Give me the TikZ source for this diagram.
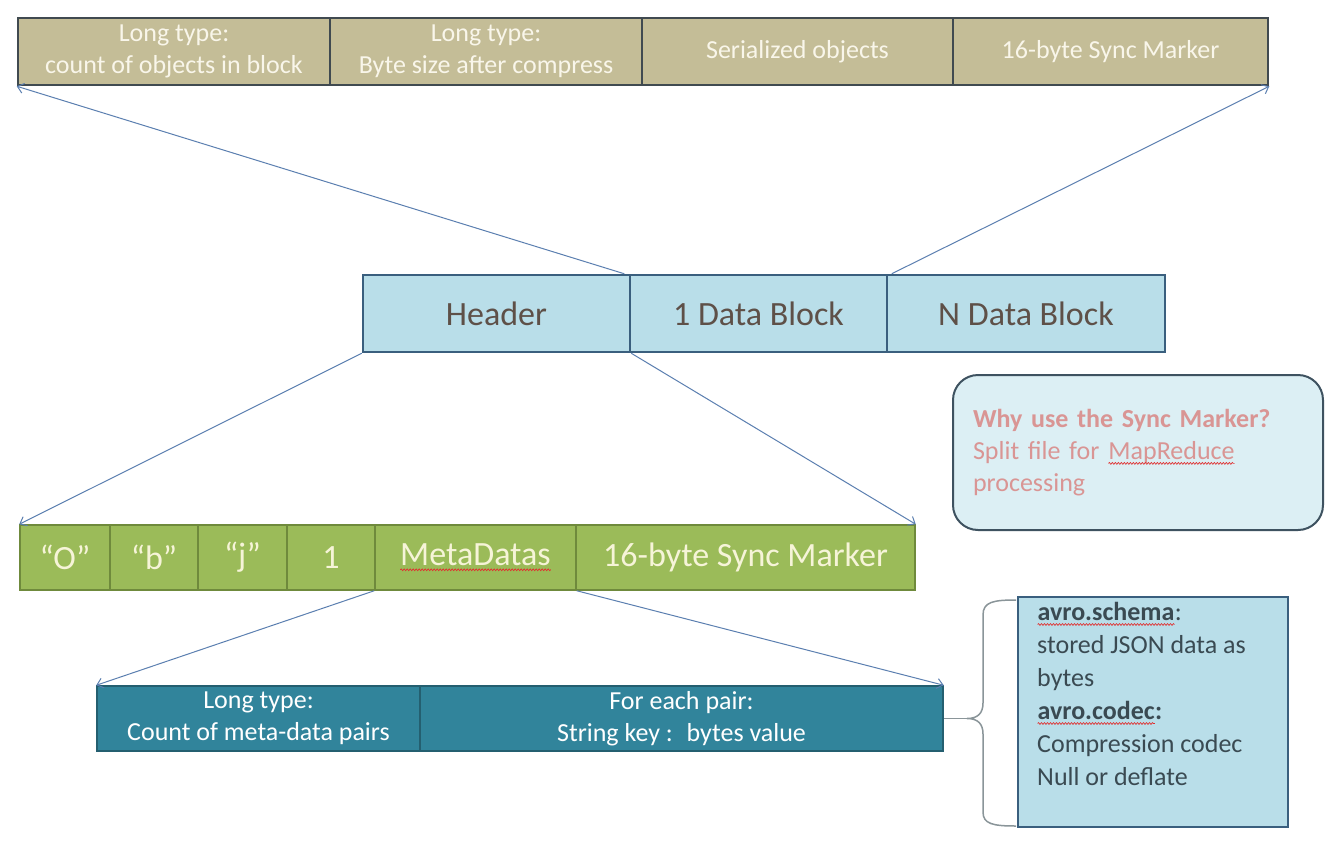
\documentclass[tikz,border=0pt]{standalone}
\usepackage{fontspec}
\setmainfont{Carlito}
\usetikzlibrary{arrows.meta,decorations.pathmorphing}
\definecolor{tanfill}{HTML}{C4BD97}
\definecolor{tanline}{HTML}{404A50}
\definecolor{tantext}{HTML}{F9F6EA}
\definecolor{midfill}{HTML}{B9DEE9}
\definecolor{midline}{HTML}{3A5F7E}
\definecolor{midtext}{HTML}{5E5048}
\definecolor{grnfill}{HTML}{9BBB59}
\definecolor{grnline}{HTML}{6F8A3C}
\definecolor{grntext}{HTML}{F6F4D8}
\definecolor{tealfill}{HTML}{31849B}
\definecolor{tealline}{HTML}{245F70}
\definecolor{noteline}{HTML}{3E5260}
\definecolor{notefill}{HTML}{DCEFF4}
\definecolor{notetext}{HTML}{D99594}
\definecolor{infotext}{HTML}{3A4A52}
\definecolor{arrowc}{HTML}{5B7FB0}
\definecolor{bracec}{HTML}{8A9599}
\definecolor{wavec}{HTML}{E03030}
\newcommand\redwave[1]{%
  \tikz[baseline=(rw.base)]{%
    \node[inner sep=0pt, outer sep=0pt, minimum size=0pt, draw=none, fill=none,
      text width={}, align=none, anchor=base, shape=rectangle] (rw) {#1};
    \draw[draw=wavec, line width=0.7pt, sharp corners, decorate,
      decoration={snake, amplitude=0.9pt, segment length=3pt}]
      ([yshift=-4pt]rw.base west) -- ([yshift=-4pt]rw.base east);}}
\tikzset{
  tancell/.style={draw=tanline, fill=tanfill, line width=2.5pt, minimum height=67pt,
    inner sep=0pt, align=center, text=tantext, font=\fontsize{26}{32}\selectfont},
  midcell/.style={draw=midline, fill=midfill, line width=2.5pt, minimum height=77pt,
    inner sep=0pt, align=center, text=midtext, font=\fontsize{34}{40}\selectfont},
  grncell/.style={draw=grnline, fill=grnfill, line width=1.5pt, minimum height=65pt,
    inner sep=0pt, align=center, text=grntext, font=\fontsize{34}{40}\selectfont},
  tealcell/.style={draw=tealline, fill=tealfill, line width=1.5pt, minimum height=65pt,
    inner sep=0pt, align=center, text=white, font=\fontsize{26}{32}\selectfont},
  conn/.style={draw=arrowc, line width=1pt, -{Straight Barb[length=6pt,width=10pt]}},
}
\begin{document}
\begin{tikzpicture}[x=1pt,y=-1pt]
\useasboundingbox (0,0) rectangle (1344,846);
\fill[white] (0,0) rectangle (1344,846);

% top row
\node[tancell, minimum width=312pt] (t1) at (174,51.5) {Long type:\\count of objects in block};
\node[tancell, minimum width=312pt] (t2) at (486,51.5) {Long type:\\Byte size after compress};
\node[tancell, minimum width=311pt] (t3) at (797.5,51.5) {Serialized objects};
\node[tancell, minimum width=315pt] (t4) at (1110.5,51.5) {16-byte Sync Marker};

% middle row
\node[midcell, minimum width=267pt] (h) at (496.5,313.5) {Header};
\node[midcell, minimum width=257pt] (d1) at (758.5,313.5) {1 Data Block};
\node[midcell, minimum width=278pt] (dn) at (1026,313.5) {N Data Block};

% green row
\node[grncell, minimum width=90pt] (g1) at (65,557.5) {“O”};
\node[grncell, minimum width=88pt] (g2) at (154,557.5) {“b”};
\node[grncell, minimum width=89pt] (g3) at (242.5,557.5) {“j”};
\node[grncell, minimum width=88pt] (g4) at (331,557.5) {1};
\node[grncell, minimum width=201pt] (g5) at (475.5,557.5) {\redwave{MetaDatas}};
\node[grncell, minimum width=339pt] (g6) at (745.5,557.5) {16-byte Sync Marker};

% teal row
\node[tealcell, minimum width=323pt] (m1) at (258.5,718.5) {Long type:\\Count of meta-data pairs};
\node[tealcell, minimum width=523pt] (m2) at (681.5,718.5) {For each pair:\\String key :~ bytes value};

% note box
\node[draw=noteline, fill=notefill, line width=2pt, rounded corners=25pt,
      minimum width=370pt, minimum height=155pt, inner sep=0pt,
      text width=330pt, align=left, text=notetext,
      font=\fontsize{26}{32}\selectfont] (note) at (1138,452.5)
  {{\bfseries Why use the Sync Marker?}\\Split file for \redwave{MapReduce}\\processing};

% info box
\node[draw=midline, fill=midfill, line width=2pt, minimum width=270pt,
      minimum height=230pt, inner sep=0pt] (info) at (1153,712) {};
\node[anchor=north west, inner sep=0pt, align=left, text=infotext,
      font=\fontsize{26}{33}\selectfont] (infotxt) at (1037,602)
  {{\bfseries\redwave{avro.schema}}:\\stored JSON data as\\bytes\\{\bfseries\redwave{avro.codec}:}\\Compression codec\\Null or deflate};

% brace
\coordinate (bt) at (967,718.5);
\draw[bracec, line width=1.5pt] (1016,600) .. controls (993,600) and (983,602) .. (983,615)
  -- (983,703) .. controls (983,713) and (978,718.5) .. (bt)
  .. controls (978,718.5) and (983,724) .. (983,734)
  -- (983,812) .. controls (983,824) and (993,826) .. (1016,826);
\draw[bracec, line width=1.5pt] (m2.east) -- (bt);

% connectors
\draw[conn] ([xshift=-7pt]h.north east) -- (t1.south west);
\draw[conn] ([xshift=6pt]dn.north west) -- (t4.south east);
\draw[conn] (h.south west) -- (g1.north west);
\draw[conn] (h.south east) -- (g6.north east);
\draw[conn] (g5.south west) -- (m1.north west);
\draw[conn] (g5.south east) -- (m2.north east);
\end{tikzpicture}
\end{document}
